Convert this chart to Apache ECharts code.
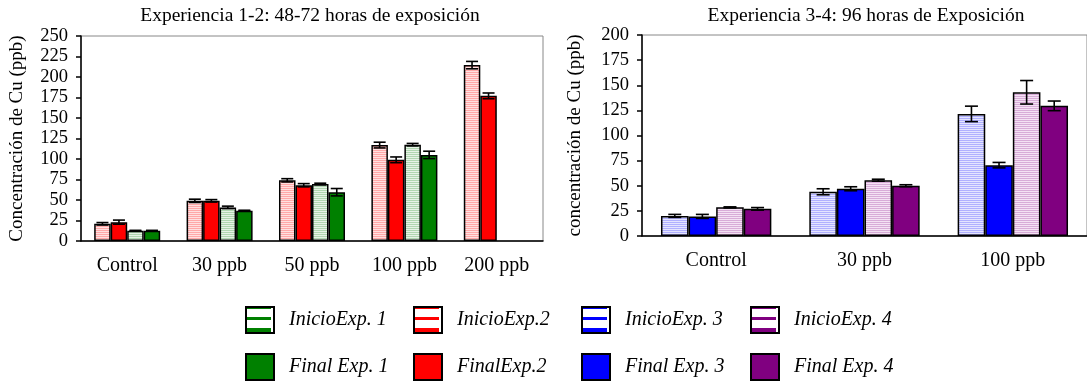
<!DOCTYPE html>
<html>
<head>
<meta charset="utf-8">
<script src="https://cdn.jsdelivr.net/npm/echarts@6/dist/echarts.min.js"></script>
<style>
html,body{margin:0;padding:0;background:#fff;}
#c{width:1087px;height:382px;}
</style>
</head>
<body>
<div id="c"></div>
<script>
// ---- data ----
const catsA = ['Control', '30 ppb', '50 ppb', '100 ppb', '200 ppb'];
const inicio2 = [21, 49, 74, 117, 214.5];
const inicio2Err = [1.5, 2, 2, 3.5, 4.5];
const final2 = [23, 49, 68, 99, 177];
const final2Err = [2.5, 1.5, 2, 3.5, 3.5];
const inicio1 = [12.5, 41, 69.5, 117.5, null];
const inicio1Err = [0.5, 1.5, 1, 1.5, null];
const final1 = [12.5, 37, 59.5, 105, null];
const final1Err = [0.5, 0.5, 4.5, 4.5, null];

const catsB = ['Control', '30 ppb', '100 ppb'];
const inicio3 = [20, 44, 121.5];
const inicio3Err = [1.5, 3, 7.7];
const final3 = [19.5, 47, 70.5];
const final3Err = [2, 2, 2.7];
const inicio4 = [28.5, 55.5, 143];
const inicio4Err = [0.5, 1, 11.7];
const final4 = [27, 50, 129.5];
const final4Err = [1.3, 1, 4.8];

const titleA = 'Experiencia 1-2: 48-72 horas de exposición';
const titleB = 'Experiencia 3-4: 96 horas de Exposición';
const yNameA = 'Concentración de Cu (ppb)';
const yNameB = 'concentración de Cu (ppb)';

// ---- styles ----
const FONT = 'Liberation Serif';
function stripe(c1, c2) {
  const cv = document.createElement('canvas');
  cv.width = 4; cv.height = 2;
  const g = cv.getContext('2d');
  g.fillStyle = c1; g.fillRect(0, 0, 4, 1);
  g.fillStyle = c2; g.fillRect(0, 1, 4, 1);
  return {image: cv, repeat: 'repeat'};
}
const COL = {
  g: '#008000', r: '#ff0000', b: '#0000ff', p: '#800080'
};
const PAT = {
  g: stripe('#b0d6b0', '#e6f2e6'),
  r: stripe('#ffa8a8', '#ffe0e0'),
  b: stripe('#b0b0ff', '#e4e4ff'),
  p: stripe('#d8acd8', '#f4e2f4')
};
function iconInicio(col) {
  const cv = document.createElement('canvas');
  cv.width = 39; cv.height = 28;
  const g = cv.getContext('2d');
  g.fillStyle = '#fff'; g.fillRect(0, 0, 30, 28);
  g.fillStyle = col;
  g.fillRect(2, 11, 24, 3);
  g.fillRect(2, 22, 24, 4);
  g.fillRect(2, 2, 24, 1);
  g.strokeStyle = '#000'; g.lineWidth = 2;
  g.strokeRect(1, 1, 28, 26);
  return 'image://' + cv.toDataURL();
}
function iconFinal(col) {
  const cv = document.createElement('canvas');
  cv.width = 39; cv.height = 28;
  const g = cv.getContext('2d');
  g.fillStyle = col; g.fillRect(0, 0, 30, 28);
  g.strokeStyle = '#000'; g.lineWidth = 2;
  g.strokeRect(1, 1, 28, 26);
  return 'image://' + cv.toDataURL();
}

const BW_A = 0.1786, BW_B = 0.186;

function barSeries(name, data, color, axisIdx, bw) {
  return {
    type: 'bar', name: name, data: data,
    xAxisIndex: axisIdx, yAxisIndex: axisIdx,
    barWidth: (bw * 100) + '%', barGap: '0%',
    itemStyle: {color: color, borderColor: '#000', borderWidth: 1.5},
    emphasis: {disabled: true}, animation: false
  };
}
function errSeries(name, vals, errs, idx, axisIdx, bw, cap) {
  const data = [];
  vals.forEach((v, i) => { if (v != null) data.push([i, v, errs[i]]); });
  return {
    type: 'custom', name: name, data: data,
    xAxisIndex: axisIdx, yAxisIndex: axisIdx, z: 5, silent: true, animation: false,
    encode: {x: 0, y: 1},
    renderItem: function (params, api) {
      const c = api.value(0), v = api.value(1), e = api.value(2);
      const band = api.size([1, 0])[0];
      const w = band * bw;
      const x = api.coord([c, v])[0] + (idx - 1.5) * w;
      const y1 = api.coord([c, v + e])[1];
      const y2 = api.coord([c, v - e])[1];
      const st = {stroke: '#000', lineWidth: 1.6};
      return {type: 'group', children: [
        {type: 'line', shape: {x1: x, y1: y1, x2: x, y2: y2}, style: st},
        {type: 'line', shape: {x1: x - cap, y1: y1, x2: x + cap, y2: y1}, style: st},
        {type: 'line', shape: {x1: x - cap, y1: y2, x2: x + cap, y2: y2}, style: st}
      ]};
    }
  };
}

const axisLine = {show: true, lineStyle: {color: '#000', width: 1.5}};
function xAx(cats, gi) {
  return {type: 'category', data: cats, gridIndex: gi,
    axisLine: axisLine, axisTick: {show: false},
    axisLabel: {color: '#000', fontFamily: FONT, fontSize: 20, margin: 15}};
}
function yAx(max, name, gap, gi) {
  return {type: 'value', min: 0, max: max, interval: 25, gridIndex: gi,
    name: name, nameLocation: 'middle', nameGap: gap,
    nameTextStyle: {color: '#000', fontFamily: FONT, fontSize: 19},
    axisLine: axisLine,
    axisTick: {show: true, length: 5, lineStyle: {color: '#000', width: 1.5}},
    axisLabel: {color: '#000', fontFamily: FONT, fontSize: 18.5, margin: 13},
    splitLine: {show: false}};
}

const legNames = ['InicioExp. 1', 'InicioExp.2', 'InicioExp. 3', 'InicioExp. 4',
                  'Final Exp. 1', 'FinalExp.2', 'Final Exp. 3', 'Final Exp. 4'];
const legIcons = [iconInicio(COL.g), iconInicio(COL.r), iconInicio(COL.b), iconInicio(COL.p),
                  iconFinal(COL.g), iconFinal(COL.r), iconFinal(COL.b), iconFinal(COL.p)];
const legX = [245, 413, 581, 750];
const legY = [306, 353];
const legends = legNames.map((n, i) => ({
  data: [{name: n, icon: legIcons[i]}],
  left: legX[i % 4], top: legY[Math.floor(i / 4)],
  padding: 0, itemWidth: 39, itemHeight: 28, selectedMode: false,
  textStyle: {color: '#000', fontFamily: FONT, fontSize: 20, fontStyle: 'italic', padding: [0, 0, 6, 0]}
}));

const chart = echarts.init(document.getElementById('c'), null, {renderer: 'canvas'});
chart.setOption({
  backgroundColor: '#fff',
  animation: false,
  title: [
    {text: titleA, left: 310, top: 6, textAlign: 'center', padding: 0,
     textStyle: {color: '#000', fontFamily: FONT, fontSize: 19.5, fontWeight: 'normal'}},
    {text: titleB, left: 866, top: 6, textAlign: 'center', padding: 0,
     textStyle: {color: '#000', fontFamily: FONT, fontSize: 19.5, fontWeight: 'normal'}}
  ],
  legend: legends,
  grid: [
    {left: 81, right: 544, top: 36, bottom: 141, show: true, borderColor: '#888', borderWidth: 1, backgroundColor: 'transparent'},
    {left: 642, right: 0, top: 35, bottom: 146, show: true, borderColor: '#888', borderWidth: 1, backgroundColor: 'transparent'}
  ],
  xAxis: [xAx(catsA, 0), xAx(catsB, 1)],
  yAxis: [yAx(250, yNameA, 54, 0), yAx(200, yNameB, 57, 1)],
  series: [
    barSeries('InicioExp.2', inicio2, PAT.r, 0, BW_A),
    barSeries('FinalExp.2', final2, COL.r, 0, BW_A),
    barSeries('InicioExp. 1', inicio1, PAT.g, 0, BW_A),
    barSeries('Final Exp. 1', final1, COL.g, 0, BW_A),
    barSeries('InicioExp. 3', inicio3, PAT.b, 1, BW_B),
    barSeries('Final Exp. 3', final3, COL.b, 1, BW_B),
    barSeries('InicioExp. 4', inicio4, PAT.p, 1, BW_B),
    barSeries('Final Exp. 4', final4, COL.p, 1, BW_B),
    errSeries('e2i', inicio2, inicio2Err, 0, 0, BW_A, 6),
    errSeries('e2f', final2, final2Err, 1, 0, BW_A, 6),
    errSeries('e1i', inicio1, inicio1Err, 2, 0, BW_A, 6),
    errSeries('e1f', final1, final1Err, 3, 0, BW_A, 6),
    errSeries('e3i', inicio3, inicio3Err, 0, 1, BW_B, 6.5),
    errSeries('e3f', final3, final3Err, 1, 1, BW_B, 6.5),
    errSeries('e4i', inicio4, inicio4Err, 2, 1, BW_B, 6.5),
    errSeries('e4f', final4, final4Err, 3, 1, BW_B, 6.5)
  ]
});
</script>
</body>
</html>
